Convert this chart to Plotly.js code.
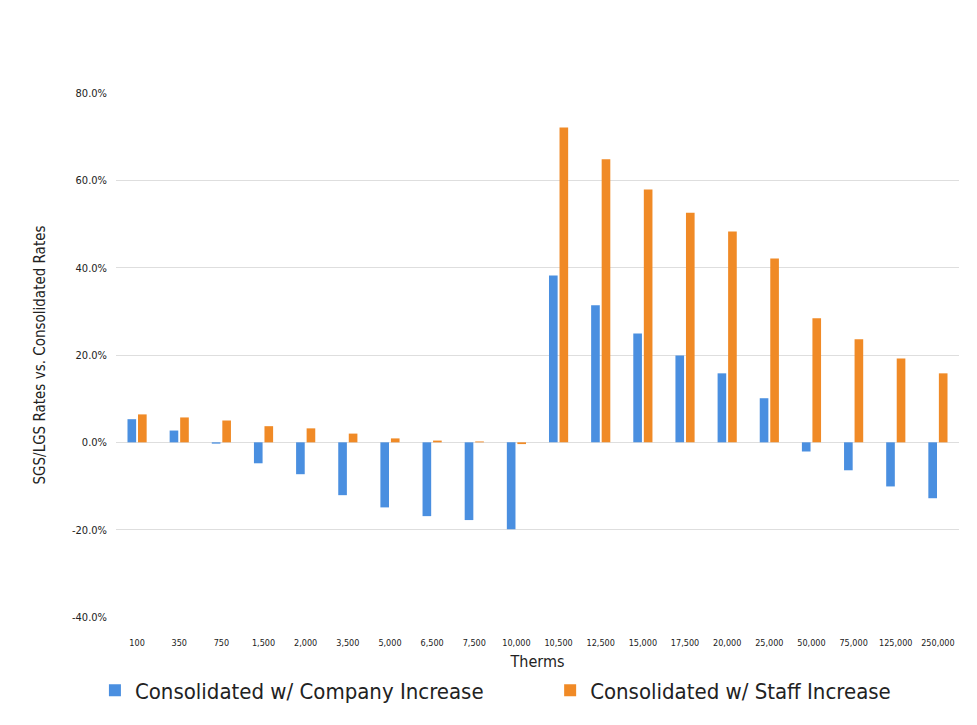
<!DOCTYPE html>
<html><head><meta charset="utf-8">
<script src="https://cdn.plot.ly/plotly-3.0.1.min.js"></script>
<style>body{margin:0;background:#fff}#c{width:977px;height:725px}</style>
</head><body><div id="c"></div>
<script>
const categories = ["100","350","750","1,500","2,000","3,500","5,000","6,500","7,500","10,000","10,500","12,500","15,000","17,500","20,000","25,000","50,000","75,000","125,000","250,000"];
const companyIncrease = [5.3, 2.7, -0.3, -4.8, -7.3, -12.1, -14.9, -16.9, -17.8, -19.9, 38.2, 31.4, 24.9, 19.9, 15.8, 10.1, -2.1, -6.4, -10.1, -12.8];
const staffIncrease = [6.4, 5.7, 5.0, 3.7, 3.2, 2.0, 0.9, 0.4, 0.2, -0.4, 72.1, 64.8, 57.9, 52.6, 48.3, 42.1, 28.4, 23.6, 19.2, 15.8];
const yTicks = [-40, -20, 0, 20, 40, 60, 80];

const font = "'Liberation Sans Narrow', 'DejaVu Sans Condensed', 'Open Sans', sans-serif";
const data = [
  {type:'bar', name:'Consolidated w/ Company Increase', x:categories, y:companyIncrease, marker:{color:'#4a8fe0'}, legend:'legend'},
  {type:'bar', name:'Consolidated w/ Staff Increase', x:categories, y:staffIncrease, marker:{color:'#f08a26'}, legend:'legend2'}
];
const legendBase = {orientation:'h', xanchor:'left', y:-0.1, yanchor:'top', font:{size:22, color:'#222'}, itemwidth:30};
const layout = {
  width:977, height:725,
  margin:{l:116, r:18, t:93, b:108},
  paper_bgcolor:'#fff', plot_bgcolor:'#fff',
  barmode:'group', bargap:0.5, bargroupgap:0.18,
  font:{family:font, color:'#222'},
  xaxis:{type:'category', tickfont:{size:9, color:'#222'}, ticks:'', showgrid:false, zeroline:false,
         ticklabelstandoff:19,
         title:{text:'Therms', font:{size:16, color:'#222'}, standoff:8}, automargin:false},
  yaxis:{range:[-40,80], tickvals:yTicks, ticktext:yTicks.map(v=>v.toFixed(1)+'%'),
         tickfont:{size:11, color:'#222'}, gridcolor:'#dedede', gridwidth:1, zeroline:true, zerolinecolor:'#dedede',
         ticks:'', ticklen:0, ticklabelstandoff:8,
         title:{text:'SGS/LGS Rates vs. Consolidated Rates', font:{size:15, color:'#222'}, standoff:22}, automargin:false},
  legend:Object.assign({}, legendBase, {x:-0.025}),
  legend2:Object.assign({}, legendBase, {x:0.515}),
  showlegend:true
};
Plotly.newPlot('c', data, layout, {displayModeBar:false, staticPlot:true});
</script></body></html>
